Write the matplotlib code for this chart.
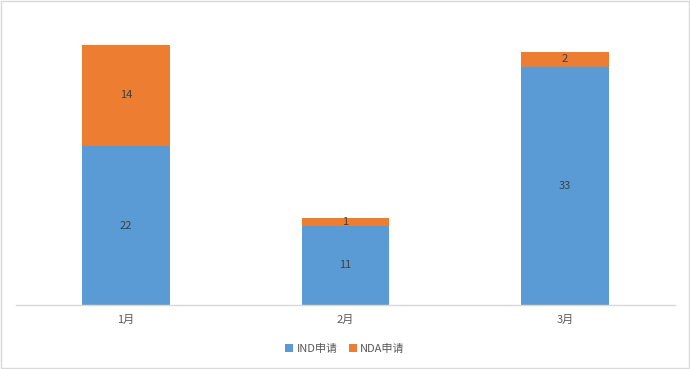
import matplotlib
matplotlib.use("Agg")
import matplotlib.pyplot as plt
from matplotlib.patches import Rectangle

plt.rcParams['font.family'] = ['Noto Sans CJK SC', 'DejaVu Sans']

categories = ["1月", "2月", "3月"]
ind_values = [22, 11, 33]
nda_values = [14, 1, 2]
series_names = ["IND申请", "NDA申请"]

blue = "#5B9BD5"
orange = "#ED7D31"
txt = "#404040"

fig = plt.figure(figsize=(6.9, 3.69), dpi=100)
fig.patches.append(Rectangle((0.002, 0.003), 0.996, 0.994, transform=fig.transFigure,
                             fill=False, edgecolor="#D9D9D9", linewidth=1.0))
ax = fig.add_axes([16/690, 1-305/369, (675-16)/690, (305-16)/369])

x = range(len(categories))
b1 = ax.bar(x, ind_values, width=0.4, color=blue, label=series_names[0])
b2 = ax.bar(x, nda_values, width=0.4, bottom=ind_values, color=orange, label=series_names[1])

for i in x:
    ax.text(i, ind_values[i]/2, str(ind_values[i]), ha="center", va="center", fontsize=8, color=txt)
    ax.text(i, ind_values[i] + nda_values[i]/2, str(nda_values[i]), ha="center", va="center", fontsize=8, color=txt)

ax.set_xlim(-0.5, 2.5)
ax.set_ylim(0, 40)
ax.set_xticks(list(x))
ax.set_xticklabels(categories, fontsize=8, color="#595959")
ax.set_yticks([])
for s in ["top", "right", "left"]:
    ax.spines[s].set_visible(False)
ax.spines["bottom"].set_color("#D9D9D9")
ax.spines["bottom"].set_linewidth(1.0)
ax.tick_params(axis="x", length=0, pad=7)

leg = fig.legend(handles=[b1, b2], labels=series_names, loc="center", bbox_to_anchor=(345/690, 1-349/369),
                 ncol=2, frameon=False, fontsize=8, handlelength=0.7, handleheight=0.7,
                 handletextpad=0.3, columnspacing=1.0)
for t in leg.get_texts():
    t.set_color("#595959")

fig.savefig("out.png", dpi=100)
